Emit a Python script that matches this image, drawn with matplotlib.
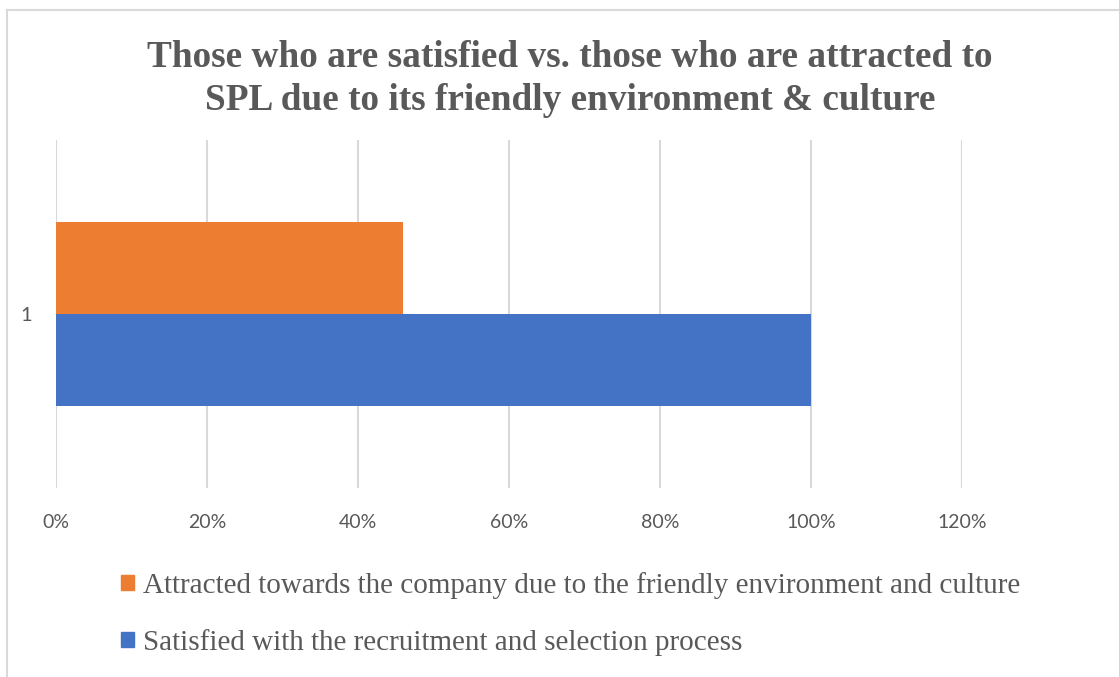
import matplotlib.pyplot as plt
from matplotlib.lines import Line2D
from matplotlib.patches import Patch
from matplotlib.ticker import PercentFormatter

W, H = 1119, 677

categories = ["1"]
attracted = [0.46]
satisfied = [1.00]
series_labels = [
    "Attracted towards the company due to the friendly environment and culture",
    "Satisfied with the recruitment and selection process",
]
xticks = [0, 0.2, 0.4, 0.6, 0.8, 1.0, 1.2]

orange = "#ed7d31"
blue = "#4472c4"
grey_txt = "#595959"
grid_col = "#d9d9d9"

fig = plt.figure(figsize=(W / 100, H / 100), dpi=100)
fig.patch.set_facecolor("white")

# chart frame (only top and left edges fall inside the image)
fig.add_artist(Line2D([7 / W, 7 / W], [0, 1 - 10 / H], transform=fig.transFigure,
                      color=grid_col, lw=1.5))
fig.add_artist(Line2D([7 / W, 1], [1 - 10 / H, 1 - 10 / H], transform=fig.transFigure,
                      color=grid_col, lw=1.5))

ax = fig.add_axes([56 / W, 1 - 488 / H, (962 - 56) / W, (488 - 140) / H])

bh = 0.263
ypos = [1]
ax.barh([y + bh / 2 for y in ypos], attracted, height=bh, color=orange, zorder=3)
ax.barh([y - bh / 2 for y in ypos], satisfied, height=bh, color=blue, zorder=3)

ax.set_xlim(0, 1.2)
ax.set_ylim(0.5, 1.5)
ax.set_xticks(xticks)
ax.xaxis.set_major_formatter(PercentFormatter(1.0, decimals=0))
ax.set_yticks(ypos)
ax.set_yticklabels(categories)
ax.grid(axis="x", color=grid_col, lw=1.5, zorder=0)
for s in ax.spines.values():
    s.set_visible(False)
ax.tick_params(axis="x", length=0, pad=19, labelsize=14, labelcolor=grey_txt)
ax.tick_params(axis="y", length=0, pad=17, labelsize=14.5, labelcolor=grey_txt)
for lab in ax.get_xticklabels() + ax.get_yticklabels():
    lab.set_family("Lato")

fig.text(570 / W, 1 - 79 / H,
         "Those who are satisfied vs. those who are attracted to\nSPL due to its friendly environment & culture",
         ha="center", va="center", family="Liberation Serif", weight="bold",
         fontsize=26.8, color=grey_txt, linespacing=1.3)

handles = [Patch(color=orange), Patch(color=blue)]
fig.legend(handles, series_labels, loc="center left",
           bbox_to_anchor=(121 / W, 1 - 614 / H), frameon=False,
           borderpad=0, borderaxespad=0,
           handlelength=0.44, handleheight=0.44, handletextpad=0.33,
           labelspacing=1.03, prop={"family": "Liberation Serif", "size": 21},
           labelcolor=grey_txt)

fig.savefig("out.png", dpi=100)
